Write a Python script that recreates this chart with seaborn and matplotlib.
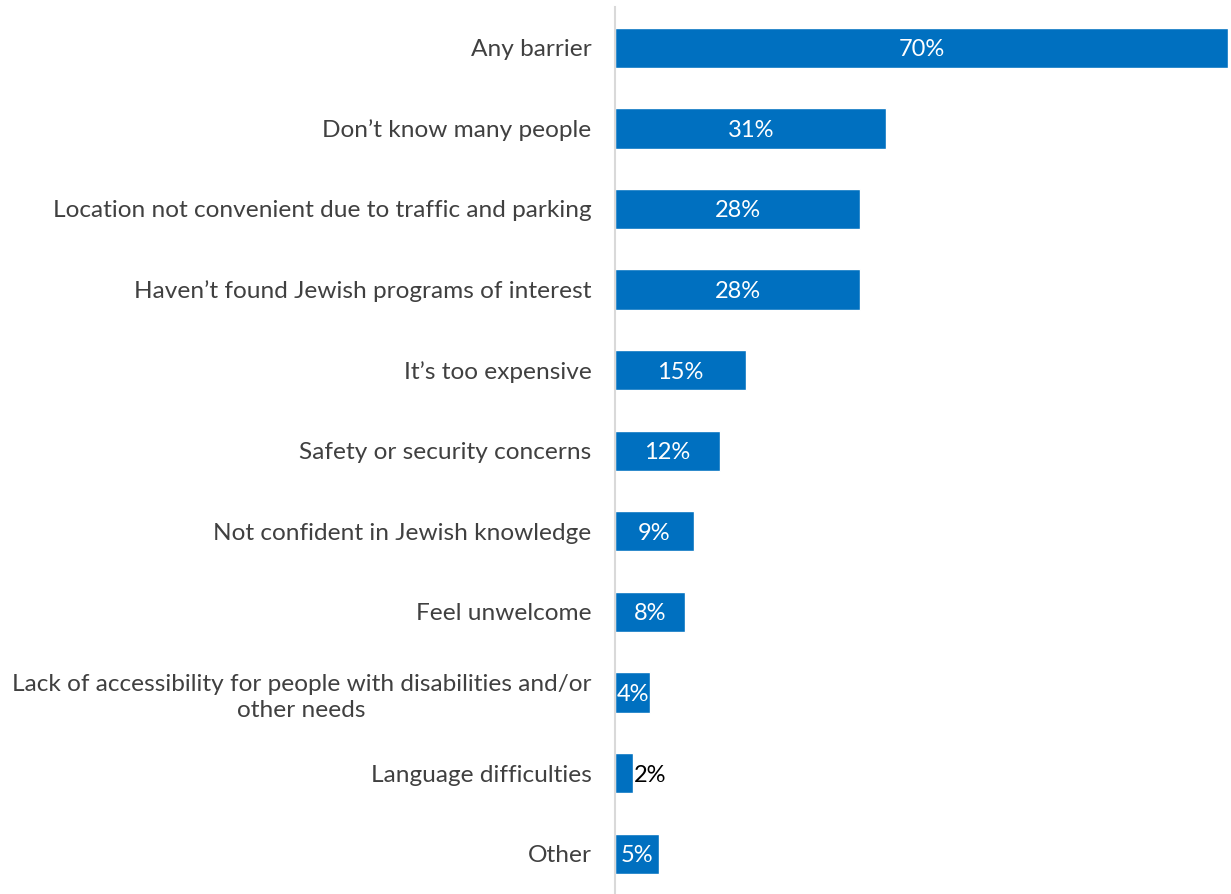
import matplotlib
matplotlib.use("Agg")
import matplotlib.pyplot as plt
import seaborn as sns
import pandas as pd

categories = [
    "Any barrier",
    "Don\u2019t know many people",
    "Location not convenient due to traffic and parking",
    "Haven\u2019t found Jewish programs of interest",
    "It\u2019s too expensive",
    "Safety or security concerns",
    "Not confident in Jewish knowledge",
    "Feel unwelcome",
    "Lack of accessibility for people with disabilities and/or\nother needs",
    "Language difficulties",
    "Other",
]
values = [70, 31, 28, 28, 15, 12, 9, 8, 4, 2, 5]

df = pd.DataFrame({"barrier": categories, "pct": values})

sns.set_theme(style="white")
plt.rcParams["font.family"] = ["Lato", "DejaVu Sans"]

BLUE = "#0070C0"
TEXT = "#404040"

fig = plt.figure(figsize=(12.31, 8.94), dpi=100)
ax = fig.add_axes([615 / 1231, 0.0, 613 / 1231, 1 - 7.5 / 894])

sns.barplot(data=df, x="pct", y="barrier", orient="h", color=BLUE,
            saturation=1, width=0.5, ax=ax)

ax.set_xlim(0, 70)
ax.set_ylim(len(categories) - 0.5, -0.5)
ax.set_xlabel("")
ax.set_ylabel("")
ax.set_xticks([])
ax.tick_params(axis="y", length=0, pad=17, labelsize=17.6, labelcolor=TEXT)
for lbl in ax.get_yticklabels():
    lbl.set_multialignment("center")
    lbl.set_linespacing(1.35)

for side in ["top", "right", "bottom"]:
    ax.spines[side].set_visible(False)
ax.spines["left"].set_color("#d9d9d9")
ax.spines["left"].set_linewidth(1.5)

for i, v in enumerate(values):
    if v >= 3:
        ax.text(v / 2, i, f"{v}%", ha="center", va="center_baseline",
                color="white", fontsize=17)
    else:
        ax.text(v + 0.1, i, f"{v}%", ha="left", va="center_baseline",
                color="black", fontsize=17)

fig.savefig("out.png", dpi=100)
